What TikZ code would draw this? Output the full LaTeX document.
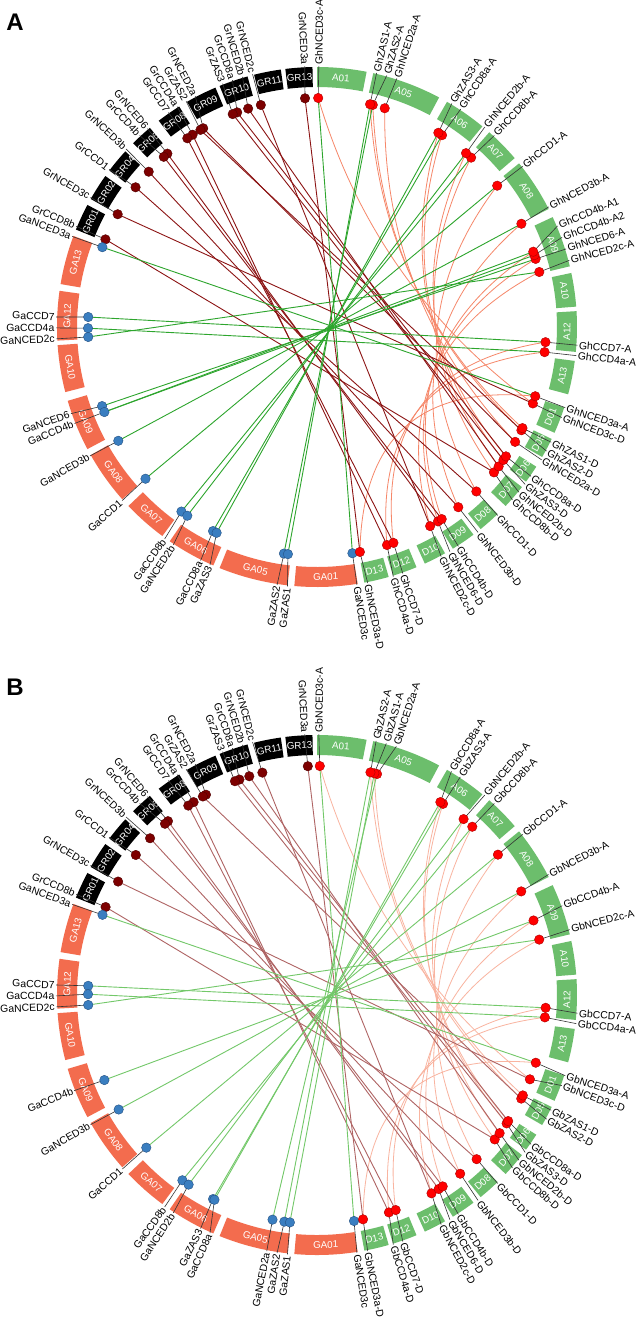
\documentclass[tikz,border=0pt]{standalone}
\usepackage{fontspec}
\setmainfont{Liberation Sans}
\usetikzlibrary{calc}
\pgfdeclarelayer{background}
\pgfdeclarelayer{bg}
\pgfsetlayers{background,bg,main}

\definecolor{segG}{RGB}{108,190,108}
\definecolor{segA}{RGB}{243,108,78}
\definecolor{dotred}{RGB}{255,0,0}
\definecolor{dotredb}{RGB}{170,0,0}
\definecolor{dotk}{RGB}{125,0,0}
\definecolor{dotkb}{RGB}{80,0,0}
\definecolor{dotb}{RGB}{58,126,192}
\definecolor{dotbb}{RGB}{35,80,130}
\definecolor{lRa}{RGB}{140,20,20}
\definecolor{lGa}{RGB}{45,165,45}
\definecolor{lSa}{RGB}{246,135,105}
\definecolor{lRb}{RGB}{175,100,100}
\definecolor{lGb}{RGB}{115,200,105}
\definecolor{lSb}{RGB}{249,180,160}

\tikzset{
  tick/.style={draw=black!80, line width=0.6pt},
  lab/.style={font=\fontsize{10.4}{12}\selectfont, inner sep=0.5pt},
  seglab/.style={font=\fontsize{9.8}{11}\selectfont, text=white, inner sep=0pt},
  panlab/.style={font=\fontsize{24}{24}\selectfont\bfseries, inner sep=0pt},
  dotR/.style={circle, fill=dotred, draw=dotredb, line width=0.4pt, minimum size=9.5pt, inner sep=0pt},
  dotK/.style={circle, fill=dotk, draw=dotkb, line width=0.4pt, minimum size=9.5pt, inner sep=0pt},
  dotB/.style={circle, fill=dotb, draw=dotbb, line width=0.4pt, minimum size=9.5pt, inner sep=0pt},
  lkRa/.style={draw=lRa, line width=0.9pt},
  lkGa/.style={draw=lGa, line width=0.9pt},
  lkSa/.style={draw=lSa, line width=0.8pt},
  lkRb/.style={draw=lRb, line width=0.9pt},
  lkGb/.style={draw=lGb, line width=0.9pt},
  lkSb/.style={draw=lSb, line width=0.8pt},
}

% segment: prefix, label, start, end, colour
\newcommand{\seg}[5]{%
  \fill[#5] (#3:240) arc[start angle=#3, end angle=#4, radius=240pt] -- (#4:260) arc[start angle=#4, end angle=#3, radius=260pt] -- cycle;
  \pgfmathsetmacro{\sgm}{(#3+#4)/2}
  \pgfmathsetmacro{\sgr}{\sgm-90}
  \pgfmathsetmacro{\sgr}{\sgr < -90 ? \sgr+180 : (\sgr > 90 ? \sgr-180 : \sgr)}
  \node[seglab, rotate=\sgr] (#1#2) at (\sgm:250) {#2};
}
% gene: prefix, name, dot angle, label angle, dot style
\newcommand{\gn}[5]{%
  \coordinate (#1#2) at (#3:229);
  \draw[tick] (#3:229) -- (#4:261);
  \ifdim #4pt>90pt
    \node[lab, rotate=#4+180, anchor=east] (#1#2-l) at (#4:262) {#2};
  \else
    \node[lab, rotate=#4, anchor=west] (#1#2-l) at (#4:262) {#2};
  \fi
  \node[#5] (#1#2-d) at (#3:229) {};
}
% curved link: style, a, b, centre
\newcommand{\crv}[4]{%
  \coordinate (m) at ($(#2)!0.5!(#3)$);
  \coordinate (cp) at ($(#4)!70pt!(m)$);
  \draw[#1] (#2) .. controls ($(#2)!0.667!(cp)$) and ($(#3)!0.667!(cp)$) .. (#3);
}
% common chromosome ring
\newcommand{\ring}[1]{%
  \seg{#1}{A01}{90}{79}{segG}
  \seg{#1}{A05}{77.5}{62}{segG}
  \seg{#1}{A06}{60}{50.5}{segG}
  \seg{#1}{A07}{48.5}{40.5}{segG}
  \seg{#1}{A08}{39}{27}{segG}
  \seg{#1}{A09}{25}{13.5}{segG}
  \seg{#1}{A10}{12}{4.5}{segG}
  \seg{#1}{A12}{3.5}{-5.5}{segG}
  \seg{#1}{A13}{-7.5}{-15}{segG}
  \seg{#1}{D01}{-18}{-24}{segG}
  \seg{#1}{D05}{-25.5}{-30}{segG}
  \seg{#1}{D06}{-32.5}{-36.5}{segG}
  \seg{#1}{D07}{-38}{-43.5}{segG}
  \seg{#1}{D08}{-46}{-51}{segG}
  \seg{#1}{D09}{-53}{-58.5}{segG}
  \seg{#1}{D10}{-60.5}{-65.5}{segG}
  \seg{#1}{D12}{-67.5}{-73}{segG}
  \seg{#1}{D13}{-74}{-79.5}{segG}
  \seg{#1}{GA01}{279}{265}{segA}
  \seg{#1}{GA05}{263.5}{248}{segA}
  \seg{#1}{GA06}{246.5}{235.5}{segA}
  \seg{#1}{GA07}{233.5}{223.5}{segA}
  \seg{#1}{GA08}{221.5}{209.5}{segA}
  \seg{#1}{GA09}{208}{196.5}{segA}
  \seg{#1}{GA10}{194.5}{184}{segA}
  \seg{#1}{GA12}{183}{172}{segA}
  \seg{#1}{GA13}{170.5}{159.5}{segA}
  \seg{#1}{GR01}{158}{152}{black}
  \seg{#1}{GR02}{150.5}{144.5}{black}
  \seg{#1}{GR04}{143}{137.5}{black}
  \seg{#1}{GR06}{135}{130}{black}
  \seg{#1}{GR08}{127.5}{122}{black}
  \seg{#1}{GR09}{120}{113}{black}
  \seg{#1}{GR10}{112}{105.5}{black}
  \seg{#1}{GR11}{104}{98}{black}
  \seg{#1}{GR13}{97}{91}{black}
}

\begin{document}
\begin{tikzpicture}[x=1pt,y=1pt]
\useasboundingbox (0,0) rectangle (637,-1317);
\begin{pgfonlayer}{background}
\fill[white] (0,0) rectangle (637,-1317);
\end{pgfonlayer}
\node[panlab] (pA) at (15,-22) {A};
\node[panlab] (pB) at (15,-687) {B};

% ================= PANEL A =================
\begin{scope}[shift={(317,-327)}]
\coordinate (a-O) at (0,0);
\ring{a-}
% Gr genes
\gn{a-}{GrNCED3a}{93}{92.7}{dotK}
\gn{a-}{GrNCED2c}{104.2}{104.3}{dotK}
\gn{a-}{GrNCED2b}{107.5}{106.6}{dotK}
\gn{a-}{GrCCD8a}{110.4}{108.9}{dotK}
\gn{a-}{GrZAS3}{111.6}{111.2}{dotK}
\gn{a-}{GrNCED2a}{119.8}{117.8}{dotK}
\gn{a-}{GrZAS2}{120.6}{120.1}{dotK}
\gn{a-}{GrCCD4a}{122.9}{122.4}{dotK}
\gn{a-}{GrCCD7}{124.5}{124.7}{dotK}
\gn{a-}{GrNCED6}{130.8}{130.5}{dotK}
\gn{a-}{GrCCD4b}{132}{132.8}{dotK}
\gn{a-}{GrNCED3b}{137.3}{137}{dotK}
\gn{a-}{GrCCD1}{142.4}{142.8}{dotK}
\gn{a-}{GrNCED3c}{150.5}{150.2}{dotK}
\gn{a-}{GrCCD8b}{157.5}{157.3}{dotK}
% Ga genes
\gn{a-}{GaNCED3a}{159.6}{159.7}{dotB}
\gn{a-}{GaCCD7}{177.5}{177.8}{dotB}
\gn{a-}{GaCCD4a}{180.3}{180.2}{dotB}
\gn{a-}{GaNCED2c}{182.5}{182.6}{dotB}
\gn{a-}{GaNCED6}{200.2}{199.4}{dotB}
\gn{a-}{GaCCD4b}{201.8}{201.7}{dotB}
\gn{a-}{GaNCED3b}{209.8}{209.6}{dotB}
\gn{a-}{GaCCD1}{221.5}{221.7}{dotB}
\gn{a-}{GaCCD8b}{233.7}{234.3}{dotB}
\gn{a-}{GaNCED2b}{235.5}{236.6}{dotB}
\gn{a-}{GaCCD8a}{243}{243.5}{dotB}
\gn{a-}{GaZAS3}{244}{245.8}{dotB}
\gn{a-}{GaZAS2}{261.7}{261.2}{dotB}
\gn{a-}{GaZAS1}{262.7}{263.5}{dotB}
\gn{a-}{GaNCED3c}{-81.1}{-81.2}{dotB}
% Gh genes
\gn{a-}{GhNCED3a-D}{-79.2}{-78.8}{dotR}
\gn{a-}{GhCCD4a-D}{-72.2}{-73}{dotR}
\gn{a-}{GhCCD7-D}{-70.5}{-70.8}{dotR}
\gn{a-}{GhNCED2c-D}{-60.4}{-61.6}{dotR}
\gn{a-}{GhNCED6-D}{-58.1}{-59.4}{dotR}
\gn{a-}{GhCCD4b-D}{-57}{-57.2}{dotR}
\gn{a-}{GhNCED3b-D}{-51.9}{-51.9}{dotR}
\gn{a-}{GhCCD1-D}{-45.9}{-46.2}{dotR}
\gn{a-}{GhCCD8b-D}{-39.4}{-41.5}{dotR}
\gn{a-}{GhNCED2b-D}{-37.5}{-39.3}{dotR}
\gn{a-}{GhZAS3-D}{-35.5}{-37.1}{dotR}
\gn{a-}{GhCCD8a-D}{-34.4}{-34.9}{dotR}
\gn{a-}{GhNCED2a-D}{-30.1}{-30.6}{dotR}
\gn{a-}{GhZAS2-D}{-26.8}{-28.4}{dotR}
\gn{a-}{GhZAS1-D}{-26.2}{-26.2}{dotR}
\gn{a-}{GhNCED3c-D}{-19.5}{-20.3}{dotR}
\gn{a-}{GhNCED3a-A}{-17.6}{-18}{dotR}
\gn{a-}{GhCCD4a-A}{-6.3}{-6.3}{dotR}
\gn{a-}{GhCCD7-A}{-3.8}{-4}{dotR}
\gn{a-}{GhNCED2c-A}{13.9}{14.8}{dotR}
\gn{a-}{GhNCED6-A}{17.3}{17.4}{dotR}
\gn{a-}{GhCCD4b-A2}{18.3}{20.1}{dotR}
\gn{a-}{GhCCD4b-A1}{19.2}{22.8}{dotR}
\gn{a-}{GhNCED3b-A}{26.8}{27.4}{dotR}
\gn{a-}{GhCCD1-A}{38.1}{38}{dotR}
\gn{a-}{GhCCD8b-A}{47.7}{47.2}{dotR}
\gn{a-}{GhNCED2b-A}{49.4}{50}{dotR}
\gn{a-}{GhCCD8a-A}{56.9}{56.6}{dotR}
\gn{a-}{GhZAS3-A}{58}{58.9}{dotR}
\gn{a-}{GhNCED2a-A}{72.8}{72.2}{dotR}
\gn{a-}{GhZAS2-A}{75.9}{74.5}{dotR}
\gn{a-}{GhZAS1-A}{76.6}{76.8}{dotR}
\gn{a-}{GhNCED3c-A}{89.7}{89.6}{dotR}
\begin{pgfonlayer}{bg}
\foreach \g in {NCED3c,ZAS1,ZAS2,NCED2a,ZAS3,CCD8a,NCED2b,CCD8b,CCD1,NCED3b,NCED6,NCED2c,CCD7,CCD4a,NCED3a}
  {\crv{lkSa}{a-Gh\g-A}{a-Gh\g-D}{a-O}}
\crv{lkSa}{a-GhCCD4b-A1}{a-GhCCD4b-D}{a-O}
\foreach \g in {NCED3a,NCED2c,NCED2b,CCD8a,ZAS3,NCED2a,ZAS2,CCD4a,CCD7,NCED6,CCD4b,NCED3b,CCD1,NCED3c,CCD8b}
  {\draw[lkRa] (a-Gr\g) -- (a-Gh\g-D);}
\foreach \g in {NCED3a,CCD7,CCD4a,NCED2c,NCED6,NCED3b,CCD1,CCD8b,NCED2b,CCD8a,ZAS3,ZAS2,ZAS1,NCED3c}
  {\draw[lkGa] (a-Ga\g) -- (a-Gh\g-A);}
\draw[lkGa] (a-GaCCD4b) -- (a-GhCCD4b-A1);
\draw[lkGa] (a-GaCCD4b) -- (a-GhCCD4b-A2);
\end{pgfonlayer}
\end{scope}

% ================= PANEL B =================
\begin{scope}[shift={(317,-995)}]
\coordinate (b-O) at (0,0);
\ring{b-}
\gn{b-}{GrNCED3a}{92.3}{92.7}{dotK}
\gn{b-}{GrNCED2c}{103.8}{104.3}{dotK}
\gn{b-}{GrNCED2b}{107.2}{106.6}{dotK}
\gn{b-}{GrCCD8a}{109.8}{108.9}{dotK}
\gn{b-}{GrZAS3}{111}{111.2}{dotK}
\gn{b-}{GrNCED2a}{119}{117.8}{dotK}
\gn{b-}{GrZAS2}{119.9}{120.1}{dotK}
\gn{b-}{GrCCD4a}{122.6}{122.4}{dotK}
\gn{b-}{GrCCD7}{124.2}{124.7}{dotK}
\gn{b-}{GrNCED6}{130.6}{130.5}{dotK}
\gn{b-}{GrCCD4b}{131.6}{132.8}{dotK}
\gn{b-}{GrNCED3b}{136.8}{137}{dotK}
\gn{b-}{GrCCD1}{142.3}{142.8}{dotK}
\gn{b-}{GrNCED3c}{150.3}{150.2}{dotK}
\gn{b-}{GrCCD8b}{157.4}{157.3}{dotK}
\gn{b-}{GaNCED3a}{159.5}{159.7}{dotB}
\gn{b-}{GaCCD7}{177.7}{177.8}{dotB}
\gn{b-}{GaCCD4a}{179.8}{180.2}{dotB}
\gn{b-}{GaNCED2c}{182.5}{182.6}{dotB}
\gn{b-}{GaCCD4b}{201.8}{201.5}{dotB}
\gn{b-}{GaNCED3b}{210}{209.8}{dotB}
\gn{b-}{GaCCD1}{221.8}{221.8}{dotB}
\gn{b-}{GaCCD8b}{234}{234.3}{dotB}
\gn{b-}{GaNCED2b}{235.9}{236.6}{dotB}
\gn{b-}{GaZAS3}{243}{243.5}{dotB}
\gn{b-}{GaCCD8a}{243.4}{245.8}{dotB}
\gn{b-}{GaNCED2a}{258.8}{258.9}{dotB}
\gn{b-}{GaZAS2}{261.8}{261.2}{dotB}
\gn{b-}{GaZAS1}{263.2}{263.5}{dotB}
\gn{b-}{GaNCED3c}{-80.7}{-81.2}{dotB}
\gn{b-}{GbNCED3a-D}{-78.4}{-78.8}{dotR}
\gn{b-}{GbCCD4a-D}{-71.7}{-73}{dotR}
\gn{b-}{GbCCD7-D}{-69.9}{-70.8}{dotR}
\gn{b-}{GbNCED2c-D}{-60}{-61.6}{dotR}
\gn{b-}{GbNCED6-D}{-57.9}{-59.4}{dotR}
\gn{b-}{GbCCD4b-D}{-56.7}{-57.2}{dotR}
\gn{b-}{GbNCED3b-D}{-51.3}{-51.9}{dotR}
\gn{b-}{GbCCD1-D}{-45.8}{-46.2}{dotR}
\gn{b-}{GbCCD8b-D}{-39.1}{-41.5}{dotR}
\gn{b-}{GbNCED2b-D}{-37.1}{-39.3}{dotR}
\gn{b-}{GbZAS3-D}{-34.1}{-37.1}{dotR}
\gn{b-}{GbCCD8a-D}{-33.4}{-34.9}{dotR}
\gn{b-}{GbZAS2-D}{-26.9}{-28.4}{dotR}
\gn{b-}{GbZAS1-D}{-26}{-26.2}{dotR}
\gn{b-}{GbNCED3c-D}{-21.6}{-20.3}{dotR}
\gn{b-}{GbNCED3a-A}{-17.2}{-18}{dotR}
\gn{b-}{GbCCD4a-A}{-5.6}{-6.3}{dotR}
\gn{b-}{GbCCD7-A}{-3.2}{-4}{dotR}
\gn{b-}{GbNCED2c-A}{14}{14.5}{dotR}
\gn{b-}{GbCCD4b-A}{19}{20}{dotR}
\gn{b-}{GbNCED3b-A}{26.9}{27.5}{dotR}
\gn{b-}{GbCCD1-A}{37.8}{38}{dotR}
\gn{b-}{GbCCD8b-A}{47.3}{47.2}{dotR}
\gn{b-}{GbNCED2b-A}{50.2}{50}{dotR}
\gn{b-}{GbZAS3-A}{56.6}{56.7}{dotR}
\gn{b-}{GbCCD8a-A}{57.4}{59}{dotR}
\gn{b-}{GbNCED2a-A}{74.8}{72.3}{dotR}
\gn{b-}{GbZAS1-A}{75.5}{74.6}{dotR}
\gn{b-}{GbZAS2-A}{76.5}{76.9}{dotR}
\gn{b-}{GbNCED3c-A}{89.3}{89.6}{dotR}
\begin{pgfonlayer}{bg}
\foreach \g in {NCED3c,ZAS1,ZAS2,ZAS3,CCD8a,NCED2b,CCD8b,CCD1,NCED3b,CCD4b,NCED2c,CCD7,CCD4a,NCED3a}
  {\crv{lkSb}{b-Gb\g-A}{b-Gb\g-D}{b-O}}
\foreach \g in {NCED3a,NCED2c,NCED2b,CCD8a,ZAS3,ZAS2,CCD4a,CCD7,NCED6,CCD4b,NCED3b,CCD1,NCED3c,CCD8b}
  {\draw[lkRb] (b-Gr\g) -- (b-Gb\g-D);}
\foreach \g in {NCED3a,CCD7,CCD4a,NCED2c,CCD4b,NCED3b,CCD1,CCD8b,NCED2b,CCD8a,ZAS3,NCED2a,ZAS2,ZAS1,NCED3c}
  {\draw[lkGb] (b-Ga\g) -- (b-Gb\g-A);}
\end{pgfonlayer}
\end{scope}
\end{tikzpicture}
\end{document}
